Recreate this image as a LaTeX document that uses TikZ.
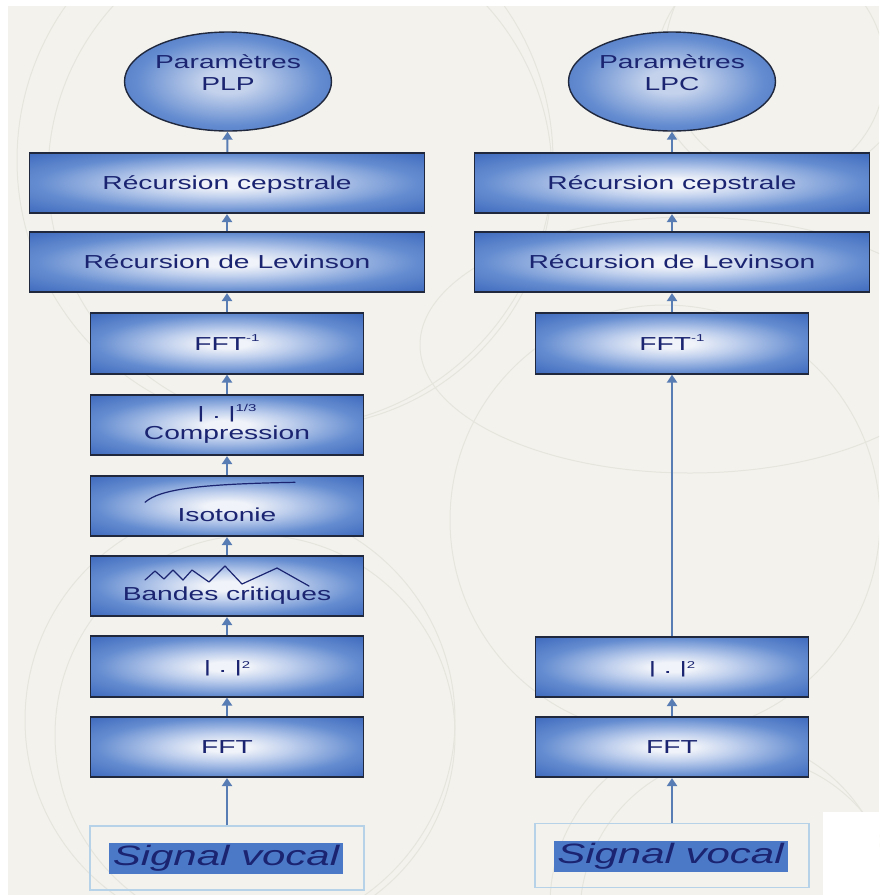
\documentclass[tikz,border=0pt]{standalone}
\usepackage{fontspec}
\setmainfont{Liberation Sans}[FakeStretch=1.5]
\usetikzlibrary{arrows.meta,shapes.geometric}
\definecolor{bgc}{RGB}{243,242,236}
\definecolor{arcc}{RGB}{229,228,221}
\definecolor{txtc}{RGB}{26,36,112}
\definecolor{bdrc}{RGB}{32,40,62}
\definecolor{arrc}{RGB}{88,124,180}
\definecolor{bca}{RGB}{240,243,249}
\definecolor{bcb}{RGB}{188,205,236}
\definecolor{bcc}{RGB}{100,140,208}
\definecolor{bcd}{RGB}{60,104,188}
\definecolor{eca}{RGB}{196,210,236}
\definecolor{hlc}{RGB}{76,120,200}
\definecolor{sigc}{RGB}{182,210,232}
\pgfdeclareradialshading{boxshade}{\pgfpoint{0bp}{0bp}}{color(0bp)=(bca); color(4bp)=(bca); color(12bp)=(bcb); color(24bp)=(bcc); color(36bp)=(bcd); color(50bp)=(bcd)}
\pgfdeclareradialshading{ellshade}{\pgfpoint{0bp}{0bp}}{color(0bp)=(eca); color(6bp)=(eca); color(22bp)=(bcc); color(36bp)=(bcd); color(50bp)=(bcd)}
\newcommand\atbase[2]{\raisebox{-#1}[0pt][0pt]{\makebox[0pt][c]{#2}}}
\newcommand\supx[2]{\raisebox{#1}{\fontsize{10}{10}\selectfont #2}}
\newcommand\vbar{\scalebox{1}[0.88]{|}}
\tikzset{
  procbox/.style={rectangle, draw=bdrc, line width=1.6pt, shading=boxshade,
    minimum height=60.5pt, inner sep=0pt, text=txtc,
    font=\fontsize{18.8}{21.7}\selectfont},
  narrowbox/.style={procbox, minimum width=273pt},
  widebox/.style={procbox, minimum width=395pt},
  paramell/.style={ellipse, draw=bdrc, line width=1.4pt, shading=ellshade,
    minimum width=207pt, minimum height=99pt, inner sep=0pt, text=txtc,
    font=\fontsize{18.8}{21.7}\selectfont},
  flow/.style={draw=arrc, line width=2pt, -{Triangle[width=10pt,length=8pt]}},
  sigbox/.style={rectangle, draw=sigc, line width=1.2pt, minimum width=274pt,
    minimum height=64pt, inner sep=0pt},
  sighl/.style={rectangle, fill=hlc, text=txtc, inner sep=0pt,
    minimum width=234pt, minimum height=31pt,
    font=\fontsize{28}{30}\selectfont\itshape},
  sketch/.style={draw=txtc, line width=1.2pt, line join=round, line cap=round},
  bgarc/.style={draw=arcc, line width=1pt}
}
\begin{document}
\begin{tikzpicture}[x=1pt,y=-1pt]
\useasboundingbox (0,0) rectangle (879,895);
\fill[white] (0,0) rectangle (879,895);
\fill[bgc] (8,6) rectangle (879,895);
\begin{scope}
  \clip (8,6) rectangle (879,895);
  \draw[bgarc] (285,160) circle (268);
  \draw[bgarc] (300,175) circle (252);
  \draw[bgarc] (240,720) circle (215);
  \draw[bgarc] (255,735) circle (200);
  \draw[bgarc] (665,520) circle (215);
  \draw[bgarc] (690,345) ellipse (270 and 128);
  \draw[bgarc] (770,70) circle (115);
  \draw[bgarc] (790,55) circle (125);
  \draw[bgarc] (720,905) circle (170);
  \draw[bgarc] (740,915) circle (160);
\end{scope}
\fill[white] (823,812) rectangle (879,895);

% left column (PLP)
\node[paramell] (plp) at (228,81.5) {\atbase{-13.2pt}{Paramètres}\atbase{8.5pt}{PLP}};
\node[widebox] (cepL) at (227,183) {\atbase{6.5pt}{Récursion cepstrale}};
\node[widebox] (levL) at (227,262) {\atbase{6.5pt}{Récursion de Levinson}};
\node[narrowbox] (ifftL) at (227,343.5) {\atbase{6.5pt}{FFT\supx{8.8pt}{-1}}};
\node[narrowbox] (compL) at (227,425) {\atbase{-6.4pt}{\vbar\ .\ \vbar\supx{7.4pt}{1/3}}\atbase{14.3pt}{Compression}};
\node[narrowbox] (isoL) at (227,506) {\atbase{15pt}{Isotonie}};
\node[narrowbox] (bandL) at (227,586) {\atbase{14pt}{Bandes critiques}};
\node[narrowbox] (magL) at (227,666.5) {\atbase{6.4pt}{\vbar\ .\ \vbar\supx{4.5pt}{2}}};
\node[narrowbox] (fftL) at (227,747) {\atbase{6.5pt}{FFT}};
\node[sigbox] (sigL) at (227,858) {};
\node[sighl] (sigLt) at (226,858.5) {Signal vocal};

% sketches inside boxes
\draw[sketch] (145,502.3) .. controls (160,489) and (200,484) .. (295,482.3);
\draw[sketch] (145,580) -- (155,571) -- (164,579) -- (173,570) -- (183,580)
  -- (192,570) -- (209,582) -- (225,566) -- (242,584) -- (277,568) -- (309,586);

% right column (LPC)
\node[paramell] (lpc) at (672,81.5) {\atbase{-13.2pt}{Paramètres}\atbase{8.5pt}{LPC}};
\node[widebox] (cepR) at (672,183) {\atbase{6.5pt}{Récursion cepstrale}};
\node[widebox] (levR) at (672,262) {\atbase{6.5pt}{Récursion de Levinson}};
\node[narrowbox] (ifftR) at (672,343.5) {\atbase{6.5pt}{FFT\supx{8.8pt}{-1}}};
\node[narrowbox] (magR) at (672,667) {\atbase{6.4pt}{\vbar\ .\ \vbar\supx{4.5pt}{2}}};
\node[narrowbox] (fftR) at (672,747) {\atbase{6.5pt}{FFT}};
\node[sigbox] (sigR) at (672,855.5) {};
\node[sighl] (sigRt) at (670.5,856.5) {Signal vocal};

% connectors
\draw[flow] (sigL) -- (fftL);
\draw[flow] (fftL) -- (magL);
\draw[flow] (magL) -- (bandL);
\draw[flow] (bandL) -- (isoL);
\draw[flow] (isoL) -- (compL);
\draw[flow] (compL) -- (ifftL);
\draw[flow] (ifftL) -- (levL);
\draw[flow] (levL) -- (cepL);
\draw[flow] (cepL) -- (plp);

\draw[flow] (sigR) -- (fftR);
\draw[flow] (fftR) -- (magR);
\draw[flow] (magR) -- (ifftR);
\draw[flow] (ifftR) -- (levR);
\draw[flow] (levR) -- (cepR);
\draw[flow] (cepR) -- (lpc);
\end{tikzpicture}
\end{document}
